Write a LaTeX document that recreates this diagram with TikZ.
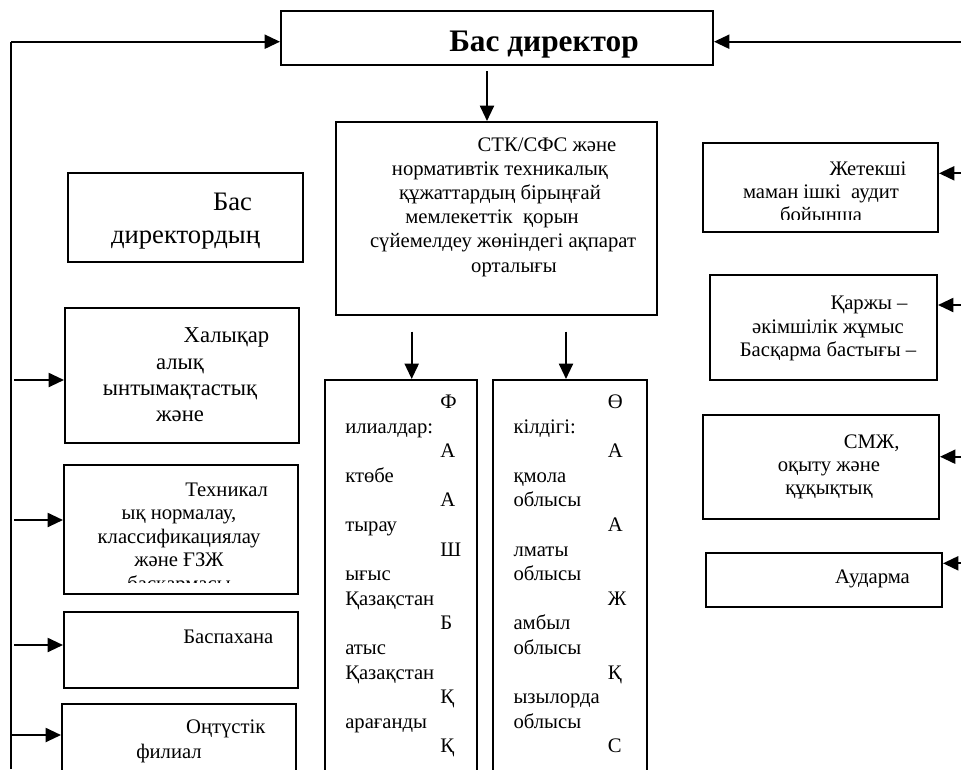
\documentclass[tikz,border=0pt]{standalone}
\usepackage{fontspec}
\setmainfont{Liberation Serif}
\usetikzlibrary{arrows.meta}
\newlength\upx
\setlength\upx{0.75pt}
% centred line, shifted right by #1 px
\newcommand\cln[2][0]{\hbox to 0pt{\hss\kern#1\upx\kern#1\upx #2\hss}}
% left line, indented by #1 px
\newcommand\lfl[2][0]{\hbox{\kern#1\upx #2}}
% stack of lines, first baseline = node baseline
\newcommand\txtlines[2]{\vtop{\baselineskip=#1\upx #2}}
\tikzset{
  box/.style={draw, line width=1.5pt, inner sep=0pt},
  bx/.style 2 args={box, minimum width=#1pt, minimum height=#2pt},
  txt/.style={inner sep=0pt, anchor=base},
  txtl/.style={inner sep=0pt, anchor=base west},
  nf/.style={font=\fontsize{15.5}{18.6}\selectfont},
  ln/.style={line width=1.5pt},
  arr/.style={line width=1.5pt, -{Triangle[length=11.5pt,width=10.5pt]}},
}
\begin{document}
\begin{tikzpicture}[x=0.75pt, y=-0.75pt]
\useasboundingbox (0,0) rectangle (961,769);
\clip (0,0) rectangle (961,769);

% ---------- boxes ----------
\node[bx={324}{40.5}]      (bd)  at (497,38)    {};
\node[bx={240.75}{144.75}] (cb)  at (496.5,218.5) {};
\node[bx={114}{330}]       (fb)  at (401,600)   {};
\node[bx={115.5}{330}]     (ob)  at (570,600)   {};
\node[bx={176.25}{66.75}]  (bdd) at (185.5,217.5) {};
\node[bx={175.5}{101.25}]  (hx)  at (182,375.5) {};
\node[bx={175.5}{96.75}]   (tx)  at (181,529.5) {};
\node[bx={175.5}{57}]      (bp)  at (181,650)   {};
\node[bx={175.5}{87}]      (on)  at (179,762)   {};
\node[bx={176.25}{66.75}]  (jt)  at (820.5,187.5) {};
\node[bx={170.25}{78.75}]  (kj)  at (823.5,327.5) {};
\node[bx={177}{78}]        (sm)  at (821,467)   {};
\node[bx={177}{40.5}]      (au)  at (824,580)   {};

% ---------- texts ----------
\node[txt, font=\bfseries\fontsize{23.5}{28}\selectfont] (t-bd) at (497,51.7)
  {\cln[47]{Бас директор}};

\node[txt, nf] (t-cb) at (500,151)
  {\txtlines{24.2}{\cln[47]{СТК/СФС және}\cln{нормативтік техникалық}%
   \cln{құжаттардың бірыңғай}\cln[-8]{мемлекеттік\ \ қорын}%
   \cln[3]{сүйемелдеу жөніндегі ақпарат}\cln[14]{орталығы}}};

\node[txtl, nf] (t-fb) at (345,408.5)
  {\txtlines{24.6}{\lfl[95]{Ф}\lfl{илиалдар:}\lfl[95]{А}\lfl{ктөбе}%
   \lfl[95]{А}\lfl{тырау}\lfl[95]{Ш}\lfl{ығыс}\lfl{Қазақстан}%
   \lfl[95]{Б}\lfl{атыс}\lfl{Қазақстан}\lfl[95]{Қ}\lfl{арағанды}\lfl[95]{Қ}}};

\node[txtl, nf] (t-ob) at (513.3,408.5)
  {\txtlines{24.6}{\lfl[94.4]{Ө}\lfl{кілдігі:}\lfl[94.4]{А}\lfl{қмола}%
   \lfl{облысы}\lfl[94.4]{А}\lfl{лматы}\lfl{облысы}\lfl[94.4]{Ж}%
   \lfl{амбыл}\lfl{облысы}\lfl[94.4]{Қ}\lfl{ызылорда}\lfl{облысы}\lfl[94.4]{С}}};

\node[txt, font=\fontsize{20}{24}\selectfont] (t-bdd) at (185.5,210)
  {\txtlines{33}{\cln[47]{Бас}\cln{директордың}}};

\node[txt, font=\fontsize{17}{20}\selectfont] (t-hx) at (180,342.7)
  {\txtlines{26.3}{\cln[46.5]{Халықар}\cln{алық}\cln{ынтымақтастық}\cln{және}}};

\begin{scope}
  \clip (64,465) rectangle (298,582.5);
  \node[txt, nf] (t-tx) at (179,496)
    {\txtlines{23.5}{\cln[47.7]{Техникал}\cln{ық нормалау,}%
     \cln{классификациялау}\cln{және ҒЗЖ}\cln{басқармасы}}};
\end{scope}

\node[txt, nf] (t-bp) at (181,643.3) {\cln[47.3]{Баспахана}};

\node[txt, nf] (t-on) at (179,733.3)
  {\txtlines{25}{\cln[46.8]{Оңтүстік}\cln[-10]{филиал}}};

\begin{scope}
  \clip (703,143) rectangle (938,219.5);
  \node[txt, nf] (t-jt) at (821,175)
    {\txtlines{23.4}{\cln[47]{Жетекші}\cln{маман ішкі\ \ аудит}\cln{бойынша}}};
\end{scope}

\node[txt, nf] (t-kj) at (828,309.3)
  {\txtlines{23.7}{\cln[41]{Қаржы –}\cln{әкімшілік жұмыс}\cln{Басқарма бастығы –}}};

\node[txt, nf] (t-sm) at (829,448.3)
  {\txtlines{22.9}{\cln[42.7]{СМЖ,}\cln{оқыту және}\cln{құқықтық}}};

\node[txt, nf] (t-au) at (825,583.3) {\cln[47.5]{Аударма}};

% ---------- connectors ----------
\coordinate (Lb) at (11,769);
\coordinate (L0) at (11,41.7);
\coordinate (R0) at (961,41.7);
\draw[ln] (Lb) -- (L0);
\draw[arr] (L0) -- (L0 -| bd.west);
\draw[arr] (R0) -- (R0 -| bd.east);

\coordinate (A1) at (487,71);
\draw[arr] (A1) -- (A1 |- cb.north);
\coordinate (A2) at (411.7,331.7);
\draw[arr] (A2) -- (A2 |- fb.north);
\coordinate (A3) at (566,331.7);
\draw[arr] (A3) -- (A3 |- ob.north);

\coordinate (Lh) at (14,380);
\draw[arr] (Lh) -- (Lh -| hx.west);
\coordinate (Lt) at (14,520);
\draw[arr] (Lt) -- (Lt -| tx.west);
\coordinate (Lp) at (14,645);
\draw[arr] (Lp) -- (Lp -| bp.west);
\coordinate (Lo) at (11,735);
\draw[arr] (Lo) -- (Lo -| on.west);

\coordinate (Rj) at (961,173.3);
\draw[arr] (Rj) -- (Rj -| jt.east);
\coordinate (Rk) at (961,305);
\draw[arr] (Rk) -- (Rk -| kj.east);
\coordinate (Rs) at (961,456.7);
\draw[arr] (Rs) -- (Rs -| sm.east);
\coordinate (Ra) at (961,563.3);
\draw[arr] (Ra) -- (Ra -| au.east);
\end{tikzpicture}
\end{document}
